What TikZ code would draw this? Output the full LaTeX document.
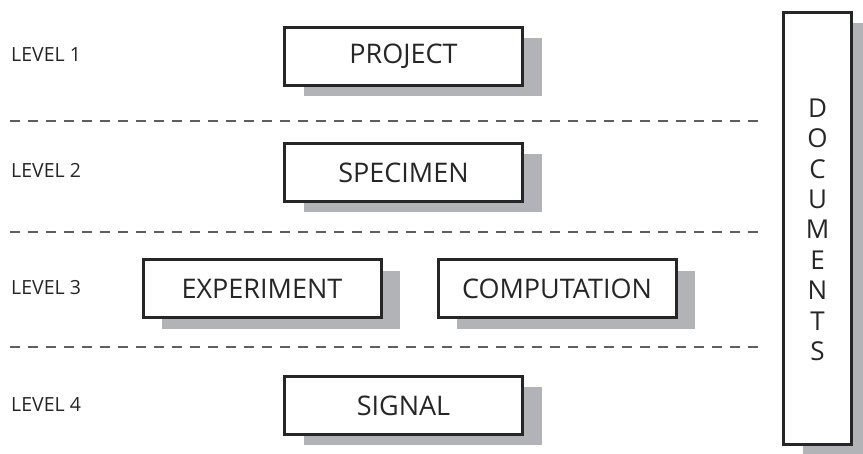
\documentclass[tikz,border=0pt]{standalone}
\usepackage{fontspec}
\setmainfont{Open Sans}
\usetikzlibrary{shadows}
\definecolor{ink}{RGB}{38,38,38}
\definecolor{shade}{RGB}{178,179,183}
\definecolor{dashc}{RGB}{95,95,95}
\tikzset{
  box/.style={draw=ink, line width=3pt, fill=white, minimum width=238pt,
    minimum height=58pt, inner sep=0pt, text=ink,
    font=\fontsize{27}{29}\selectfont,
    drop shadow={shadow xshift=19pt, shadow yshift=-11pt, fill=shade, opacity=1}},
  lvl/.style={anchor=west, inner sep=0pt, text=ink, font=\fontsize{19.5}{21}\selectfont},
  letter/.style={inner sep=0pt, text=ink, font=\fontsize{26}{28}\selectfont},
  sep/.style={draw=dashc, line width=2pt, dash pattern=on 10pt off 8pt}
}
\begin{document}
\begin{tikzpicture}[x=1pt,y=-1pt]
\useasboundingbox (0,0) rectangle (863,454);
\clip (0,0) rectangle (863,454);
% level separators
\coordinate (s1a) at (10,121); \coordinate (s1b) at (762,121);
\coordinate (s2a) at (10,232); \coordinate (s2b) at (762,232);
\coordinate (s3a) at (10,347); \coordinate (s3b) at (762,347);
\draw[sep] (s1a) -- (s1b);
\draw[sep] (s2a) -- (s2b);
\draw[sep] (s3a) -- (s3b);
% level labels
\node[lvl] (l1) at (11,55) {LEVEL 1};
\node[lvl] (l2) at (11,170) {LEVEL 2};
\node[lvl] (l3) at (11,288) {LEVEL 3};
\node[lvl] (l4) at (11,405) {LEVEL 4};
% boxes
\node[box] (project) at (403.5,56.5) {PROJECT};
\node[box] (specimen) at (403.5,172.5) {SPECIMEN};
\node[box] (experiment) at (262,289) {EXPERIMENT};
\node[box] (computation) at (557,289) {COMPUTATION};
\node[box] (signal) at (403.5,405.5) {SIGNAL};
% documents column
\node[box, minimum width=68pt, minimum height=432pt] (docs) at (817.5,228.5) {};
\foreach \ch [count=\i] in {D,O,C,U,M,E,N,T,S}
  \node[letter] (d\i) at (817.5,{108+(\i-1)*30.4}) {\ch};
\end{tikzpicture}
\end{document}
